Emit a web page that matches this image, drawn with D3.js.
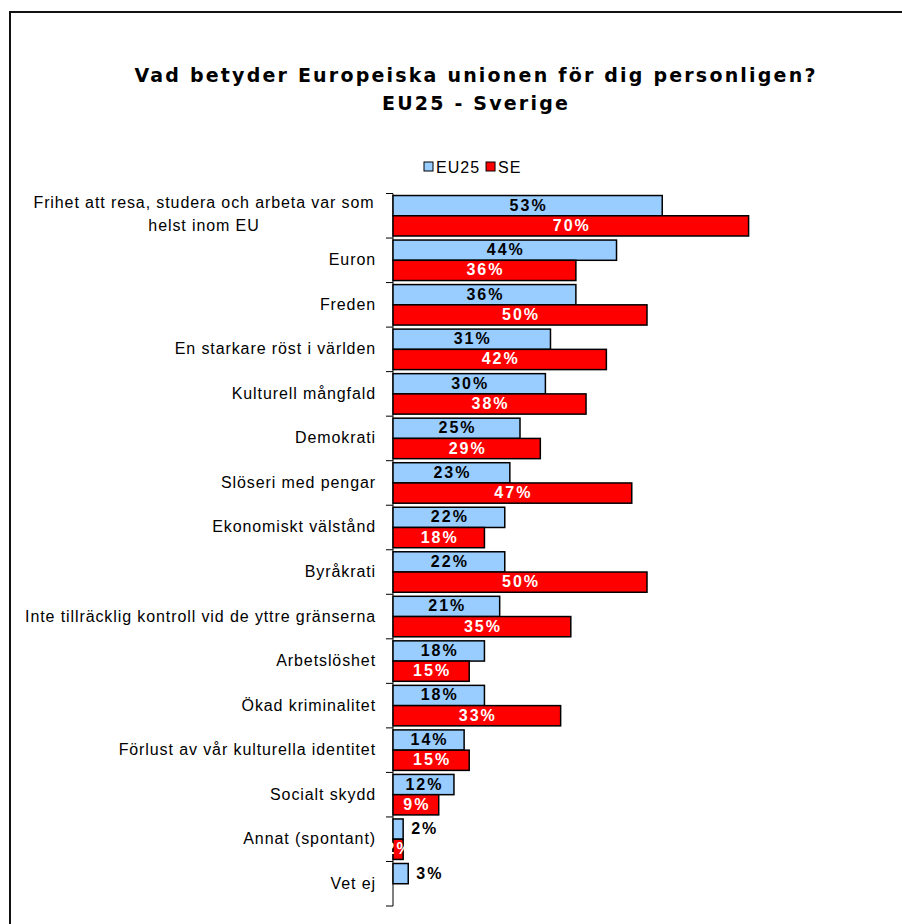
<!DOCTYPE html>
<html><head><meta charset="utf-8">
<script src="https://cdn.jsdelivr.net/npm/d3@7"></script>
<style>body{margin:0;background:#fff}svg{display:block}</style>
</head><body>
<script>
const categories = [
  ["Frihet att resa, studera och arbeta var som", "helst inom EU"],
  ["Euron"], ["Freden"], ["En starkare röst i världen"], ["Kulturell mångfald"],
  ["Demokrati"], ["Slöseri med pengar"], ["Ekonomiskt välstånd"], ["Byråkrati"],
  ["Inte tillräcklig kontroll vid de yttre gränserna"], ["Arbetslöshet"],
  ["Ökad kriminalitet"], ["Förlust av vår kulturella identitet"], ["Socialt skydd"],
  ["Annat (spontant)"], ["Vet ej"]
];
const eu25 = [53,44,36,31,30,25,23,22,22,21,18,18,14,12,2,3];
const se = [70,36,50,42,38,29,47,18,50,35,15,33,15,9,2,null];
const seriesNames = ["EU25","SE"];
const colors = ["#99CCFF","#FF0000"];
const title1 = "Vad betyder Europeiska unionen för dig personligen?";
const title2 = "EU25 - Sverige";

const W = 902, H = 924;
const svg = d3.select("body").append("svg").attr("width", W).attr("height", H);
svg.append("rect").attr("x",10).attr("y",12).attr("width",W+10).attr("height",H+10)
  .attr("fill","#fff").attr("stroke","#111").attr("stroke-width",2);

const tf = g => g.style("font-family","DejaVu Sans, Verdana").style("font-weight","bold")
  .style("font-size","19px").style("letter-spacing","2.2px").attr("text-anchor","middle");
svg.append("text").attr("x",476).attr("y",82).call(tf).text(title1);
svg.append("text").attr("x",476).attr("y",110).call(tf).text(title2);

// legend
const lg = svg.append("g").style("font-family","Liberation Sans, Arial").style("font-size","16px").style("letter-spacing","1px");
let lx = 424;
seriesNames.forEach((n,i)=>{
  lg.append("rect").attr("x",lx).attr("y",162).attr("width",9).attr("height",9)
    .attr("fill",colors[i]).attr("stroke","#000").attr("stroke-width",1);
  const t = lg.append("text").attr("x",lx+12).attr("y",173).text(n);
  lx = lx + 12 + t.node().getComputedTextLength() + 6;
});

const x0 = 393;
const x = d3.scaleLinear().domain([0,100]).range([x0, x0+508]);
const y = d3.scaleBand().domain(d3.range(categories.length)).range([193.5, 906]).paddingInner(0).paddingOuter(0);
const inner = d3.scaleBand().domain([0,1]).range([0, y.bandwidth()]).paddingOuter(0.1).paddingInner(0);

// axis
const ag = svg.append("g").attr("transform",`translate(${x0},0)`);
ag.append("line").attr("x1",0).attr("x2",0).attr("y1",y.range()[0]).attr("y2",y.range()[1]).attr("stroke","#000");
const bounds = d3.range(categories.length+1).map(i=> y.range()[0] + i*y.step());
ag.selectAll("line.tk").data(bounds).join("line").attr("class","tk")
  .attr("x1",-7).attr("x2",0).attr("y1",d=>d).attr("y2",d=>d).attr("stroke","#000");

// category labels
const cl = svg.append("g").style("font-family","Liberation Sans, Arial").style("font-size","16px")
  .style("letter-spacing","0.9px").attr("fill","#000");
categories.forEach((lines,i)=>{
  const cy = y(i) + y.bandwidth()/2;
  if (lines.length === 1) {
    cl.append("text").attr("x",376).attr("y",cy+5).attr("text-anchor","end").text(lines[0]);
  } else {
    const t = cl.append("text").attr("text-anchor","middle");
    t.append("tspan").attr("x",204).attr("y",cy-8).text(lines[0]);
    t.append("tspan").attr("x",204).attr("y",cy+15).text(lines[1]);
  }
});

// bars
const data = [eu25, se];
data.forEach((vals, s)=>{
  const g = svg.append("g");
  vals.forEach((v,i)=>{
    if (v === null) return;
    const by = y(i) + inner(s);
    const bh = inner.bandwidth();
    g.append("rect").attr("x",x(0)).attr("y",by).attr("width",x(v)-x(0)).attr("height",bh)
      .attr("fill",colors[s]).attr("stroke","#000").attr("stroke-width",1.5);
  });
});
// value labels
data.forEach((vals, s)=>{
  const g = svg.append("g").style("font-family","Liberation Sans, Arial").style("font-weight","bold")
    .style("font-size","16px").style("letter-spacing","2px");
  vals.forEach((v,i)=>{
    if (v === null) return;
    const by = y(i) + inner(s);
    const bh = inner.bandwidth();
    const outside = s === 0 && v < 5;
    g.append("text")
      .attr("x", outside ? x(v)+8 : (x(0)+x(v))/2 + 1)
      .attr("y", by + bh/2 + 5)
      .attr("text-anchor", outside ? "start" : "middle")
      .attr("fill", s===0 ? "#000" : "#fff")
      .text(v + "%");
  });
});
</script>
</body></html>
